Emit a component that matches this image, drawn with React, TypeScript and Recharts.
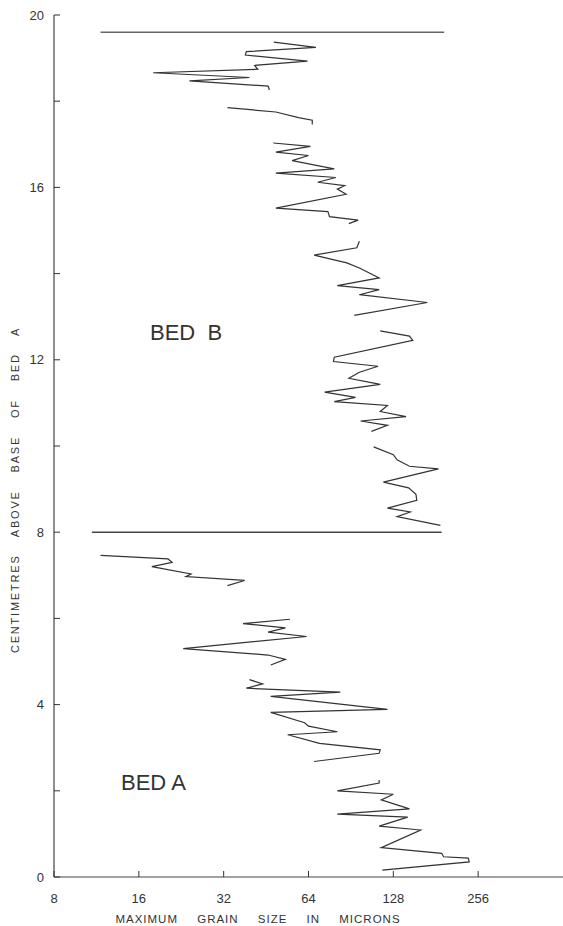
import React from 'react';
import { ScatterChart, Scatter, XAxis, YAxis, ReferenceLine } from 'recharts';

// grain size axis (microns, log scale) and height axis (cm above base of bed A)
const sizeTicks = [8, 16, 32, 64, 128, 256];
const heightTicks = [0, 2, 4, 6, 8, 10, 12, 14, 16, 18, 20];
const labelledHeights = [0, 4, 8, 12, 16, 20];

// each trace: [height cm, max grain size µm], bottom to top
const bedA1 = [
  [0.16, 117], [0.35, 238], [0.44, 236], [0.47, 193], [0.55, 190], [0.68, 116],
  [1.09, 160], [1.18, 114], [1.39, 144], [1.46, 81], [1.58, 146], [1.79, 116],
  [1.92, 128], [2.0, 81], [2.18, 114], [2.25, 114],
];
const bedA2 = [
  [2.68, 67], [2.87, 114], [2.95, 115], [3.1, 70], [3.3, 54], [3.37, 81],
  [3.5, 64], [3.58, 62], [3.82, 47], [3.89, 122], [4.19, 47], [4.29, 83],
  [4.38, 38.5], [4.48, 44], [4.58, 39.5],
];
const bedA3 = [
  [4.92, 47], [5.05, 53], [5.15, 46], [5.3, 23], [5.58, 63], [5.68, 46],
  [5.78, 53], [5.88, 37.5], [5.98, 55],
];
const bedA4 = [
  [6.76, 33], [6.88, 38], [6.97, 23.5], [7.03, 24.5], [7.2, 17.8], [7.3, 21],
  [7.38, 20.3], [7.46, 11.7],
];
const bedB1 = [
  [8.16, 188], [8.36, 132], [8.47, 147], [8.56, 122], [8.74, 155], [8.88, 154],
  [9.03, 145], [9.16, 118], [9.47, 185], [9.53, 146], [9.68, 132], [9.8, 128],
  [9.98, 109],
];
const bedB2 = [
  [10.34, 107], [10.48, 122], [10.58, 98], [10.68, 142], [10.8, 115], [10.94, 122],
  [11.03, 79], [11.13, 94], [11.25, 73], [11.43, 115], [11.57, 89], [11.71, 97],
  [11.85, 113], [11.96, 78.5], [12.06, 79], [12.45, 150], [12.55, 146], [12.67, 115],
];
const bedB3 = [
  [13.03, 93], [13.33, 169], [13.51, 97], [13.63, 114], [13.72, 81], [13.9, 114],
  [14.13, 97], [14.25, 87.5], [14.43, 67], [14.6, 95], [14.75, 97],
];
const bedB4 = [
  [15.16, 89], [15.24, 96], [15.32, 76], [15.44, 75], [15.52, 49], [15.84, 87],
  [15.96, 81], [16.04, 86], [16.12, 69], [16.23, 80], [16.33, 49], [16.43, 79],
  [16.62, 56], [16.74, 64], [16.82, 49], [16.95, 65], [17.03, 48],
];
const bedB5 = [[17.46, 66], [17.56, 66], [17.62, 59], [17.75, 49], [17.85, 33]];
const bedB6 = [
  [18.26, 46.5], [18.35, 46], [18.47, 24.2], [18.55, 39.5], [18.66, 18], [18.74, 42.3],
  [18.83, 41.2], [18.93, 63.5], [19.07, 38.2], [19.15, 38.5], [19.25, 68], [19.37, 48.2],
];

const traces = [bedA1, bedA2, bedA3, bedA4, bedB1, bedB2, bedB3, bedB4, bedB5, bedB6];

// bed boundaries: height, grain size at left end, at right end
const boundaries = [
  { h: 19.6, from: 11.7, to: 194 },
  { h: 8, from: 10.9, to: 190 },
];

const ink = '#333';
const font = '"Liberation Sans", Arial, sans-serif';

const HeightTick = (props: any) => {
  const { x, y, payload } = props;
  const show = labelledHeights.includes(payload.value);
  return (
    <g>
      <line x1={x} y1={y} x2={x + 6} y2={y} stroke={ink} strokeWidth={1} />
      {show && (
        <text x={x - 10} y={y} dy={4.5} textAnchor="end" fontSize={13} fontFamily={font} fill={ink}>
          {payload.value}
        </text>
      )}
    </g>
  );
};

const SizeTick = (props: any) => {
  const { x, y, payload } = props;
  return (
    <g>
      <line x1={x} y1={y} x2={x} y2={y - 6} stroke={ink} strokeWidth={1} />
      <text x={x} y={y + 26} textAnchor="middle" fontSize={13} fontFamily={font} fill={ink}>
        {payload.value}
      </text>
    </g>
  );
};

const App: React.FC = () => {
  return (
    <div style={{ position: 'absolute', left: 0, top: 0, width: 563, height: 926, background: '#fff' }}>
      <ScatterChart width={563} height={926} margin={{ top: 15, right: 0, bottom: 0, left: 0 }}>
        <XAxis
          type="number"
          dataKey="v"
          scale="log"
          domain={[8, 512]}
          ticks={sizeTicks}
          allowDataOverflow
          height={49}
          tickSize={0}
          tickMargin={0}
          tickLine={false}
          axisLine={{ stroke: '#444', strokeWidth: 1.2 }}
          tick={<SizeTick />}
        />
        <YAxis
          type="number"
          dataKey="h"
          domain={[0, 20]}
          ticks={heightTicks}
          allowDataOverflow
          width={54}
          tickSize={0}
          tickMargin={0}
          tickLine={false}
          axisLine={{ stroke: '#444', strokeWidth: 1.2 }}
          tick={<HeightTick />}
        />
        {boundaries.map((b, i) => (
          <ReferenceLine
            key={'b' + i}
            segment={[{ x: b.from, y: b.h }, { x: b.to, y: b.h }]}
            stroke={i === 0 ? '#666' : '#444'}
            strokeWidth={1.6}
          />
        ))}
        {traces.map((seg, i) => (
          <Scatter
            key={'t' + i}
            data={seg.map(([h, v]) => ({ h, v }))}
            line={{ stroke: ink, strokeWidth: 1.2 }}
            lineType="joint"
            shape={() => <g />}
            isAnimationActive={false}
          />
        ))}
      </ScatterChart>
      <svg width={563} height={926} style={{ position: 'absolute', left: 0, top: 0, pointerEvents: 'none' }}>
        <text x={150} y={340} fontSize={22} fontFamily={font} fill={ink} style={{ whiteSpace: 'pre' }}>
          {'BED  B'}
        </text>
        <text x={121} y={790} fontSize={22} fontFamily={font} fill={ink}>
          BED A
        </text>
        <text
          x={258}
          y={923}
          textAnchor="middle"
          fontSize={11.5}
          fontFamily={font}
          fill={ink}
          letterSpacing={1}
          wordSpacing={15}
        >
          MAXIMUM GRAIN SIZE IN MICRONS
        </text>
        <text
          x={0}
          y={0}
          transform="translate(19,490) rotate(-90)"
          textAnchor="middle"
          fontSize={11}
          fontFamily={font}
          fill={ink}
          letterSpacing={1.8}
          wordSpacing={13}
        >
          CENTIMETRES ABOVE BASE OF BED A
        </text>
      </svg>
    </div>
  );
};

export default App;
